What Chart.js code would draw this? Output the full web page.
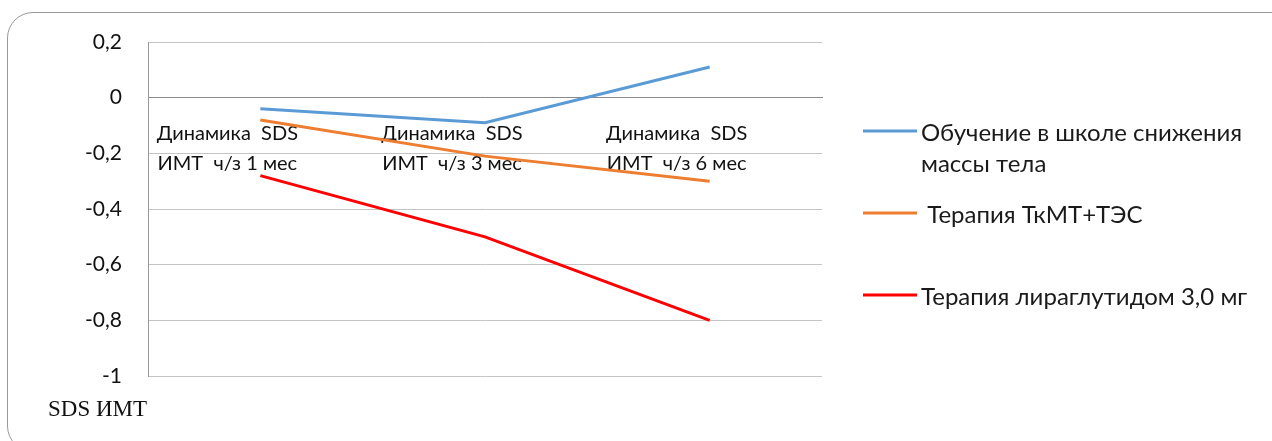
<!DOCTYPE html>
<html lang="ru">
<head>
<meta charset="utf-8">
<script src="https://cdn.jsdelivr.net/npm/chart.js@4.4.1/dist/chart.umd.min.js"></script>
<style>
  html, body { margin: 0; padding: 0; background: #fff; overflow: hidden; }
  #wrap { position: relative; width: 1272px; height: 441px; }
  #frame {
    position: absolute; left: 7px; top: 12px; width: 1290px; height: 440px;
    border: 1px solid #9a9a9a; border-radius: 26px; box-sizing: border-box;
  }
  #myChart { position: absolute; left: 0; top: 0; }
  #unit {
    position: absolute; left: 48px; top: 396px;
    font-family: "Liberation Serif", "DejaVu Serif", serif; font-size: 23px; color: #111;
  }
</style>
</head>
<body>
<div id="wrap">
  <div id="frame"></div>
  <canvas id="myChart" width="1272" height="441"></canvas>
  <div id="unit">SDS ИМТ</div>
</div>
<script>
const categories = [
    ['Динамика  SDS', 'ИМТ  ч/з 1 мес'],
    ['Динамика  SDS', 'ИМТ  ч/з 3 мес'],
    ['Динамика  SDS', 'ИМТ  ч/з 6 мес']
];
const schoolValues = [-0.04, -0.09, 0.11];
const tkmtValues = [-0.08, -0.21, -0.30];
const liraglutideValues = [-0.28, -0.50, -0.80];
const seriesNames = [
    ['Обучение в школе снижения', 'массы тела'],
    [' Терапия ТкМТ+ТЭС'],
    ['Терапия лираглутидом 3,0 мг']
];
const yMin = -1, yMax = 0.2, yStep = 0.2;

const font = "Lato, 'Open Sans', sans-serif";

// legend on the right, with wrapped names
const sideLegend = {
    id: 'sideLegend',
    afterDraw(chart) {
        const ctx = chart.ctx;
        const rows = [131, 213, 295];
        ctx.save();
        ctx.font = `24px ${font}`;
        ctx.textBaseline = 'middle';
        chart.data.datasets.forEach((ds, i) => {
            const y = rows[i];
            ctx.strokeStyle = ds.borderColor;
            ctx.lineWidth = 3;
            ctx.beginPath();
            ctx.moveTo(863, y);
            ctx.lineTo(917, y);
            ctx.stroke();
            ctx.fillStyle = '#1a1a1a';
            seriesNames[i].forEach((line, j) => {
                ctx.fillText(line, 921, y + 2 + j * 31);
            });
        });
        ctx.restore();
    }
};

const ctx = document.getElementById('myChart').getContext('2d');
const chart = new Chart(ctx, {
    type: 'line',
    data: {
        labels: categories,
        datasets: [
            { label: seriesNames[0].join(' '), data: schoolValues, borderColor: '#5b9bd5' },
            { label: seriesNames[1].join(' '), data: tkmtValues, borderColor: '#ed7d31' },
            { label: seriesNames[2].join(' '), data: liraglutideValues, borderColor: '#ff0000' }
        ]
    },
    options: {
        responsive: false,
        animation: false,
        layout: { padding: { top: 42, right: 450, bottom: 65, left: 0 } },
        elements: {
            line: { borderWidth: 3, tension: 0, borderCapStyle: 'butt' },
            point: { radius: 0, hoverRadius: 0 }
        },
        plugins: {
            legend: { display: false },
            tooltip: { enabled: false }
        },
        scales: {
            x: {
                position: { y: 0 },
                offset: true,
                grid: { display: false },
                border: { display: true, color: '#8a8a8a', width: 1 },
                ticks: {
                    color: '#111',
                    font: { family: font, size: 20, lineHeight: 1.5 },
                    padding: 13,
                    labelOffset: -33,
                    maxRotation: 0,
                    autoSkip: false
                }
            },
            y: {
                min: yMin,
                max: yMax,
                afterFit: s => { s.width = 148; },
                grid: {
                    drawTicks: false,
                    color: c => c.tick.value === 0 ? '#8a8a8a' : '#c4c4c4'
                },
                border: { display: true, color: '#9a9a9a' },
                ticks: {
                    stepSize: yStep,
                    padding: 26,
                    color: '#111',
                    font: { family: font, size: 21 },
                    callback: v => String(Math.round(v * 10) / 10).replace('.', ',')
                }
            }
        }
    },
    plugins: [sideLegend]
});
</script>
</body>
</html>
